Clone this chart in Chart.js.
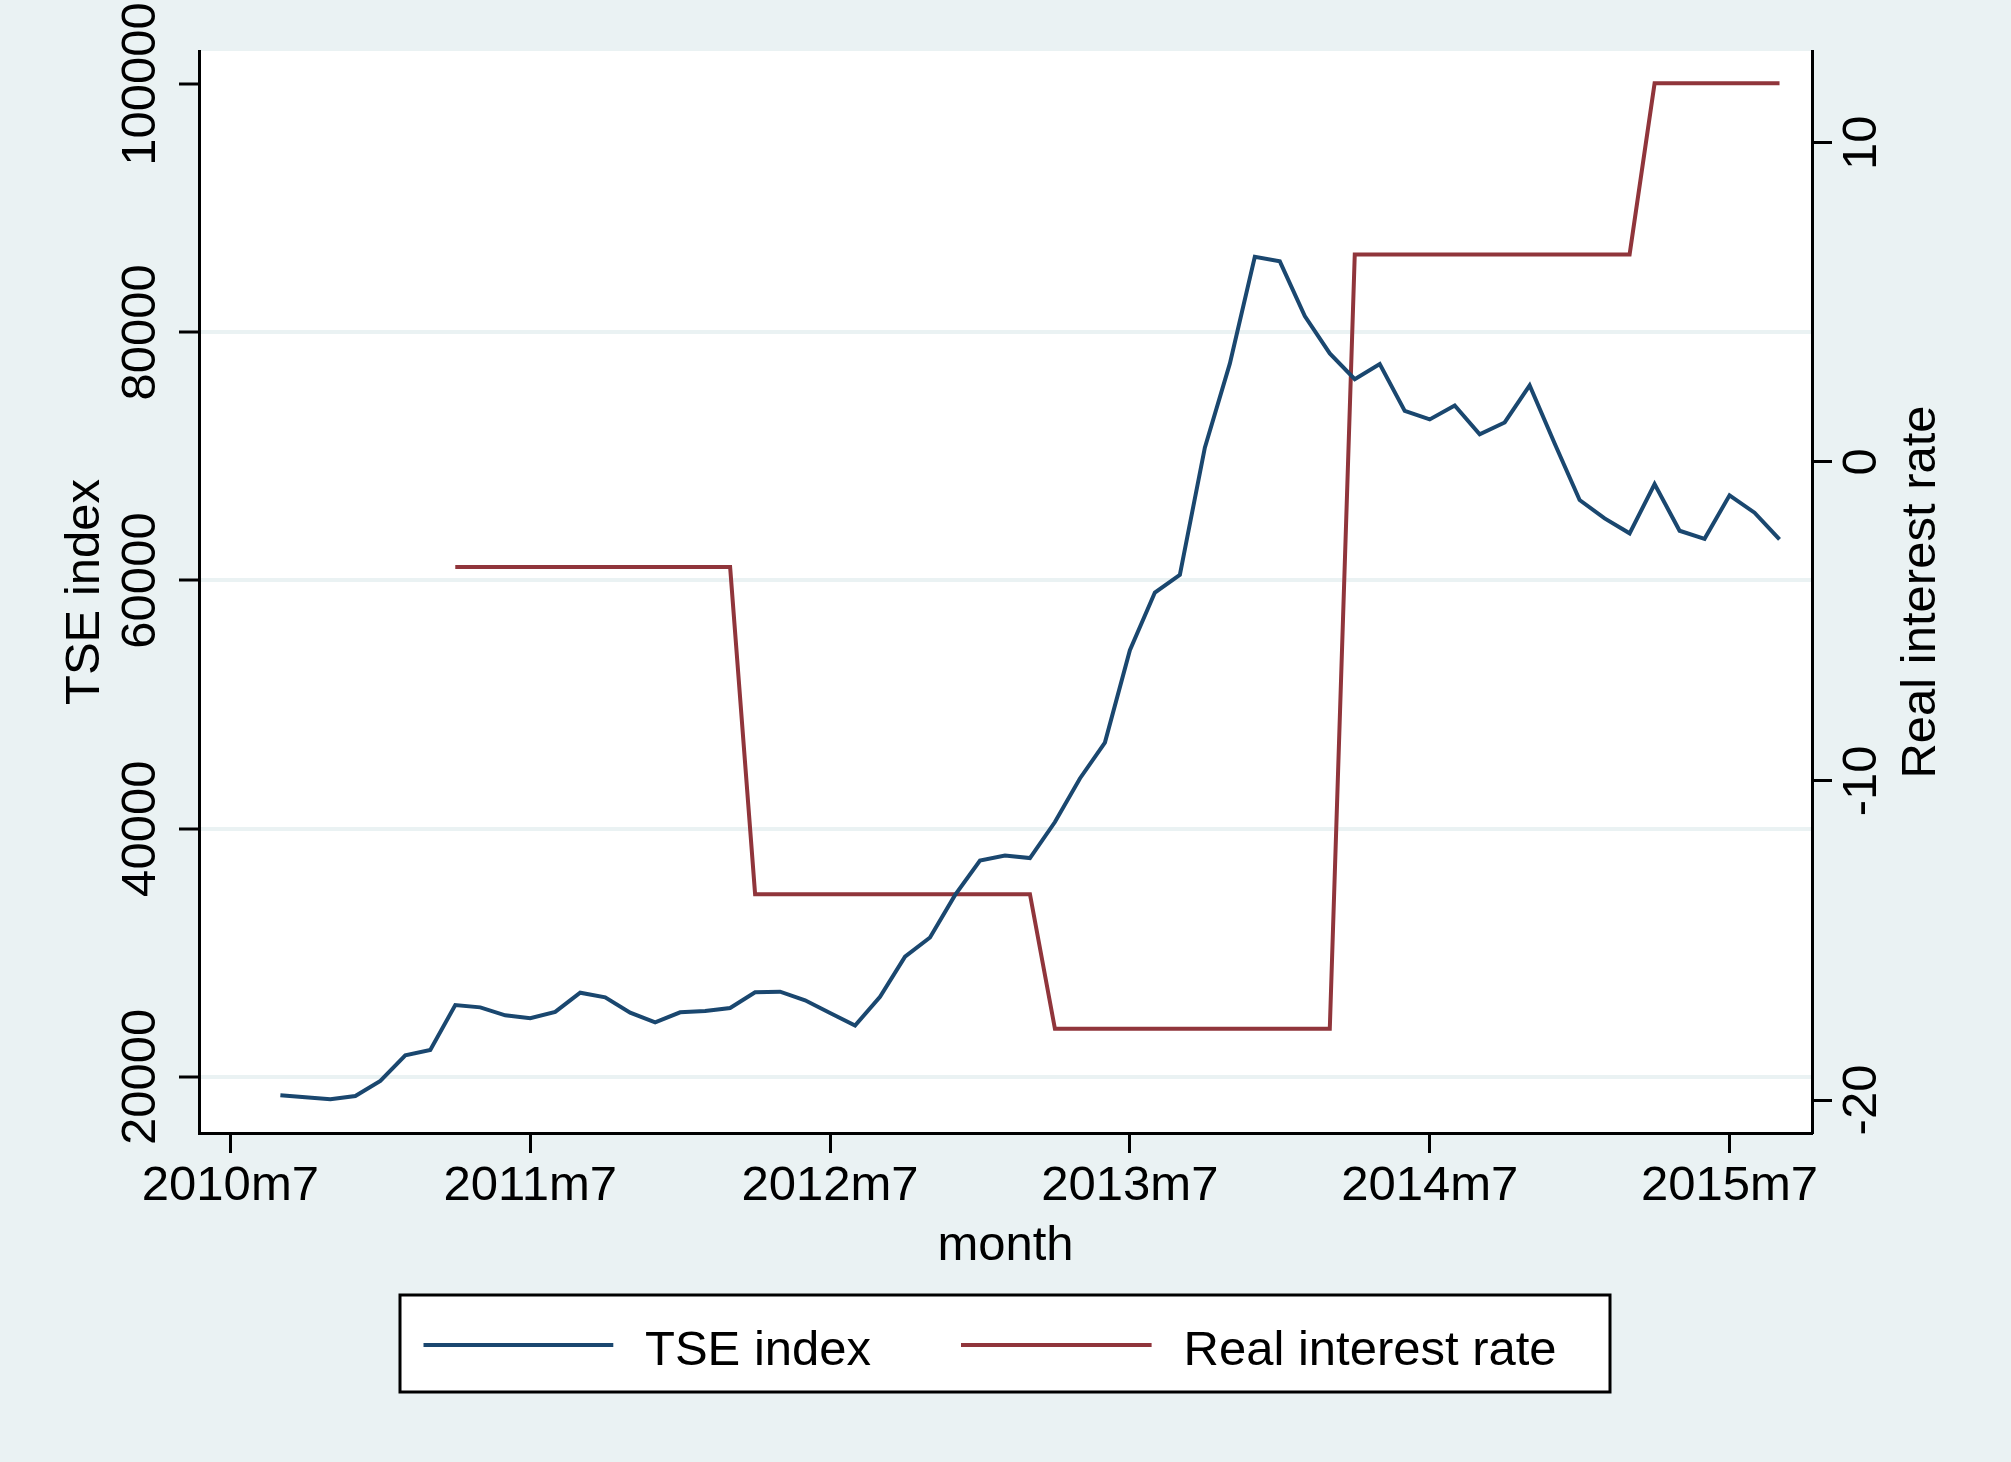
<!DOCTYPE html>
<html>
<head>
<meta charset="utf-8">
<script src="https://cdn.jsdelivr.net/npm/chart.js@4.4.1/dist/chart.umd.min.js"></script>
<style>
html,body{margin:0;padding:0;background:#EAF2F3;}
canvas{display:block;}
</style>
</head>
<body>
<canvas id="c" width="2011" height="1462"></canvas>
<script>
// ---------- data ----------
const months = [
  '2010m9','2010m10','2010m11','2010m12',
  '2011m1','2011m2','2011m3','2011m4','2011m5','2011m6','2011m7','2011m8','2011m9','2011m10','2011m11','2011m12',
  '2012m1','2012m2','2012m3','2012m4','2012m5','2012m6','2012m7','2012m8','2012m9','2012m10','2012m11','2012m12',
  '2013m1','2013m2','2013m3','2013m4','2013m5','2013m6','2013m7','2013m8','2013m9','2013m10','2013m11','2013m12',
  '2014m1','2014m2','2014m3','2014m4','2014m5','2014m6','2014m7','2014m8','2014m9','2014m10','2014m11','2014m12',
  '2015m1','2015m2','2015m3','2015m4','2015m5','2015m6','2015m7','2015m8','2015m9'
];
const tseValues = [
  18530, 18360, 18200, 18470,
  19680, 21750, 22180, 25800, 25610, 24970, 24730, 25240, 26790, 26420, 25180, 24410,
  25210, 25320, 25560, 26820, 26870, 26180, 25160, 24140, 26470, 29690, 31240, 34650,
  37430, 37850, 37640, 40540, 44050, 46940, 54380, 59030, 60450, 70700, 77470, 86080,
  85710, 81300, 78290, 76220, 77430, 73670, 72980, 74100, 71770, 72730, 75720, 71040,
  66480, 65000, 63800, 67770, 64010, 63360, 66860, 65460, 63310
];
const rateValues = [
  null, null, null, null,
  null, null, null, -3.30, -3.30, -3.30, -3.30, -3.30, -3.30, -3.30, -3.30, -3.30,
  -3.30, -3.30, -3.30, -13.55, -13.55, -13.55, -13.55, -13.55, -13.55, -13.55, -13.55, -13.55,
  -13.55, -13.55, -13.55, -17.77, -17.77, -17.77, -17.77, -17.77, -17.77, -17.77, -17.77, -17.77,
  -17.77, -17.77, -17.77, 6.50, 6.50, 6.50, 6.50, 6.50, 6.50, 6.50, 6.50, 6.50,
  6.50, 6.50, 6.50, 11.86, 11.86, 11.86, 11.86, 11.86, 11.86
];
const xTickLabels = ['2010m7','2011m7','2012m7','2013m7','2014m7','2015m7'];
const tseTicks = [20000, 40000, 60000, 80000, 100000];
const rateTicks = [-20, -10, 0, 10];
const seriesNames = ['TSE index', 'Real interest rate'];
const xTitle = 'month';
const leftTitle = 'TSE index';
const rightTitle = 'Real interest rate';

// ---------- style ----------
const FONT = '"Liberation Sans", Arial, Helvetica, sans-serif';
const FS = 49;
const BG = '#EAF2F3';
const NAVY = 'rgb(26,71,111)';
const MAROON = 'rgb(144,53,59)';

Chart.defaults.font.family = FONT;
Chart.defaults.font.size = FS;
Chart.defaults.color = '#000';

function monthPos(s) {
  const p = s.split('m');
  return (Number(p[0]) - 2010) * 12 + (Number(p[1]) - 7);
}

const mctx = document.createElement('canvas').getContext('2d');
mctx.font = FS + 'px ' + FONT;
const wL = Math.max(...tseTicks.map(v => mctx.measureText(String(v)).width));
const wR = Math.max(...rateTicks.map(v => mctx.measureText(String(v)).width));

const decor = {
  id: 'decor',
  beforeDraw(chart) {
    const ctx = chart.ctx, a = chart.chartArea;
    ctx.save();
    ctx.fillStyle = BG;
    ctx.fillRect(0, 0, chart.width, chart.height);
    ctx.fillStyle = '#ffffff';
    ctx.fillRect(a.left, a.top, a.right - a.left, a.bottom - a.top);
    ctx.restore();
  },
  afterDraw(chart) {
    const ctx = chart.ctx;
    const s = chart.scales.y1;
    // right axis title, reading bottom-to-top
    ctx.save();
    ctx.font = FS + 'px ' + FONT;
    ctx.fillStyle = '#000';
    ctx.translate(s.left + 109, (s.top + s.bottom) / 2);
    ctx.rotate(-Math.PI / 2);
    ctx.textAlign = 'center';
    ctx.textBaseline = 'middle';
    ctx.fillText(rightTitle, 0, 0);
    ctx.restore();

    // legend
    ctx.save();
    ctx.fillStyle = '#ffffff';
    ctx.fillRect(400, 1295, 1210, 97);
    ctx.strokeStyle = '#000';
    ctx.lineWidth = 3;
    ctx.strokeRect(400, 1295, 1210, 97);
    const items = [
      {x0: 423.5, x1: 613.3, tx: 645},
      {x0: 961, x1: 1151.6, tx: 1183.5}
    ];
    chart.data.datasets.forEach((ds, i) => {
      const it = items[i];
      ctx.strokeStyle = ds.borderColor;
      ctx.lineWidth = 4;
      ctx.beginPath();
      ctx.moveTo(it.x0, 1345);
      ctx.lineTo(it.x1, 1345);
      ctx.stroke();
      ctx.fillStyle = '#000';
      ctx.font = FS + 'px ' + FONT;
      ctx.textAlign = 'left';
      ctx.textBaseline = 'alphabetic';
      ctx.fillText(ds.label, it.tx, 1365);
    });
    ctx.restore();
  }
};

new Chart(document.getElementById('c'), {
  type: 'line',
  data: {
    datasets: [
      {
        label: seriesNames[0],
        data: months.map((m, i) => ({x: monthPos(m), y: tseValues[i]})),
        borderColor: NAVY,
        backgroundColor: NAVY,
        borderWidth: 4,
        pointRadius: 0,
        tension: 0,
        fill: false,
        yAxisID: 'y'
      },
      {
        label: seriesNames[1],
        data: months.map((m, i) => ({x: monthPos(m), y: rateValues[i]})),
        borderColor: MAROON,
        backgroundColor: MAROON,
        borderWidth: 4,
        pointRadius: 0,
        tension: 0,
        fill: false,
        spanGaps: false,
        yAxisID: 'y1'
      }
    ]
  },
  options: {
    responsive: false,
    devicePixelRatio: 1,
    animation: false,
    events: [],
    layout: {padding: {top: 51, left: 0, right: 0, bottom: 0}},
    plugins: {legend: {display: false}, tooltip: {enabled: false}, title: {display: false}},
    scales: {
      x: {
        type: 'linear',
        position: 'bottom',
        min: -1.257,
        max: 63.30,
        afterBuildTicks: s => { s.ticks = xTickLabels.map(l => ({value: monthPos(l)})); },
        afterFit: s => { s.height = 329; },
        ticks: {
          autoSkip: false, minRotation: 0, maxRotation: 0, padding: 3.6,
          callback: v => { const l = xTickLabels.find(t => monthPos(t) === v); return l === undefined ? '' : l; }
        },
        grid: {drawOnChartArea: false, drawTicks: true, tickLength: 20, tickWidth: 3, tickColor: '#000'},
        border: {display: true, color: '#000', width: 3},
        title: {display: true, text: xTitle, padding: {top: 0, bottom: 186.6}}
      },
      y: {
        type: 'linear',
        position: 'left',
        min: 15488,
        max: 102659,
        afterBuildTicks: s => { s.ticks = tseTicks.map(v => ({value: v})); },
        afterFit: s => { s.width = 199; },
        ticks: {
          autoSkip: false, minRotation: 90, maxRotation: 90, crossAlign: 'center',
          padding: 58 - 20 - wL / 2,
          callback: v => String(v)
        },
        grid: {
          color: c => (c.tick && c.tick.value === 100000) ? 'rgba(0,0,0,0)' : BG,
          lineWidth: 4, drawTicks: true, tickLength: 20, tickWidth: 3, tickColor: '#000'
        },
        border: {display: true, color: '#000', width: 3},
        title: {display: true, text: leftTitle, padding: {top: 56, bottom: 0}}
      },
      y1: {
        type: 'linear',
        position: 'right',
        min: -21.034,
        max: 12.874,
        afterBuildTicks: s => { s.ticks = rateTicks.map(v => ({value: v})); },
        afterFit: s => { s.width = 199; },
        ticks: {
          autoSkip: false, minRotation: 90, maxRotation: 90, crossAlign: 'center',
          padding: 50 - 20 - wR / 2,
          callback: v => String(v)
        },
        grid: {drawOnChartArea: false, drawTicks: true, tickLength: 20, tickWidth: 3, tickColor: '#000'},
        border: {display: true, color: '#000', width: 3},
        title: {display: false}
      }
    }
  },
  plugins: [decor]
});
</script>
</body>
</html>
